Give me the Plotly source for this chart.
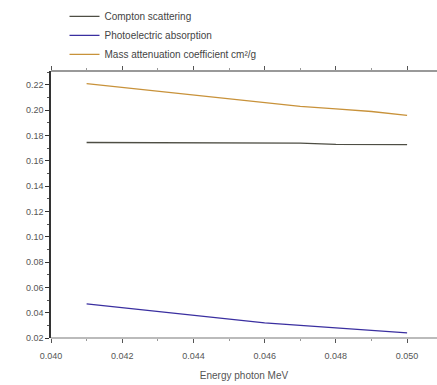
import plotly.graph_objects as go

# Photon energy (MeV)
energy = [0.041, 0.042, 0.043, 0.044, 0.045, 0.046, 0.047, 0.048, 0.049, 0.050]

# Coefficients (cm^2/g)
compton = [0.1745, 0.1745, 0.1743, 0.1740, 0.1740, 0.1740, 0.1740, 0.1730, 0.1728, 0.1728]
photoelectric = [0.047, 0.044, 0.041, 0.038, 0.035, 0.032, 0.030, 0.028, 0.026, 0.024]
mass_atten = [0.221, 0.218, 0.215, 0.212, 0.209, 0.206, 0.203, 0.201, 0.199, 0.196]

font = "Liberation Sans, Arial, sans-serif"

fig = go.Figure()
fig.add_trace(go.Scatter(x=energy, y=compton, mode="lines", name="Compton scattering",
                         line=dict(color="#4e4e44", width=1.3)))
fig.add_trace(go.Scatter(x=energy, y=photoelectric, mode="lines", name="Photoelectric absorption",
                         line=dict(color="#3a2fa0", width=1.3)))
fig.add_trace(go.Scatter(x=energy, y=mass_atten, mode="lines", name="Mass attenuation coefficient cm²/g",
                         line=dict(color="#c8923a", width=1.3)))

fig.update_layout(
    width=437, height=385,
    margin=dict(l=51, r=0, t=71, b=47),
    paper_bgcolor="white", plot_bgcolor="white",
    font=dict(family=font, size=9, color="#555555"),
    showlegend=True,
    legend=dict(x=0.035, y=0.995, xref="paper", yref="container", xanchor="left", yanchor="top",
                font=dict(size=10, color="#444444"), bgcolor="rgba(0,0,0,0)",
                itemwidth=30, tracegroupgap=0, traceorder="normal"),
    xaxis=dict(range=[0.040, 0.05084], dtick=0.002, tick0=0.040, tickformat=".3f",
               showgrid=False, zeroline=False, showline=False, automargin=False,
               ticks="outside", ticklen=4, tickcolor="#555555", mirror="ticks",
               ticklabelstandoff=5,
               minor=dict(ticks="outside", ticklen=2, dtick=0.001, tickcolor="#999999"),
               title=dict(text="Energy photon MeV", font=dict(size=10, color="#555555"), standoff=12)),
    yaxis=dict(range=[0.02, 0.231], dtick=0.02, tick0=0.02, tickformat=".2f",
               showgrid=False, zeroline=False, showline=True, linecolor="#333333", linewidth=1.5,
               ticks="outside", ticklen=4, tickcolor="#333333",
               minor=dict(ticks="outside", ticklen=2, dtick=0.01, tickcolor="#555555")),
    shapes=[
        # frame: dark top border, light bottom border
        dict(type="line", xref="paper", yref="paper", x0=0, x1=1, y0=1, y1=1,
             line=dict(color="#777777", width=1.3)),
        dict(type="line", xref="paper", yref="paper", x0=0, x1=1, y0=0, y1=0,
             line=dict(color="#bbbbbb", width=1.8)),
    ],
)

fig.write_html("out.html")
